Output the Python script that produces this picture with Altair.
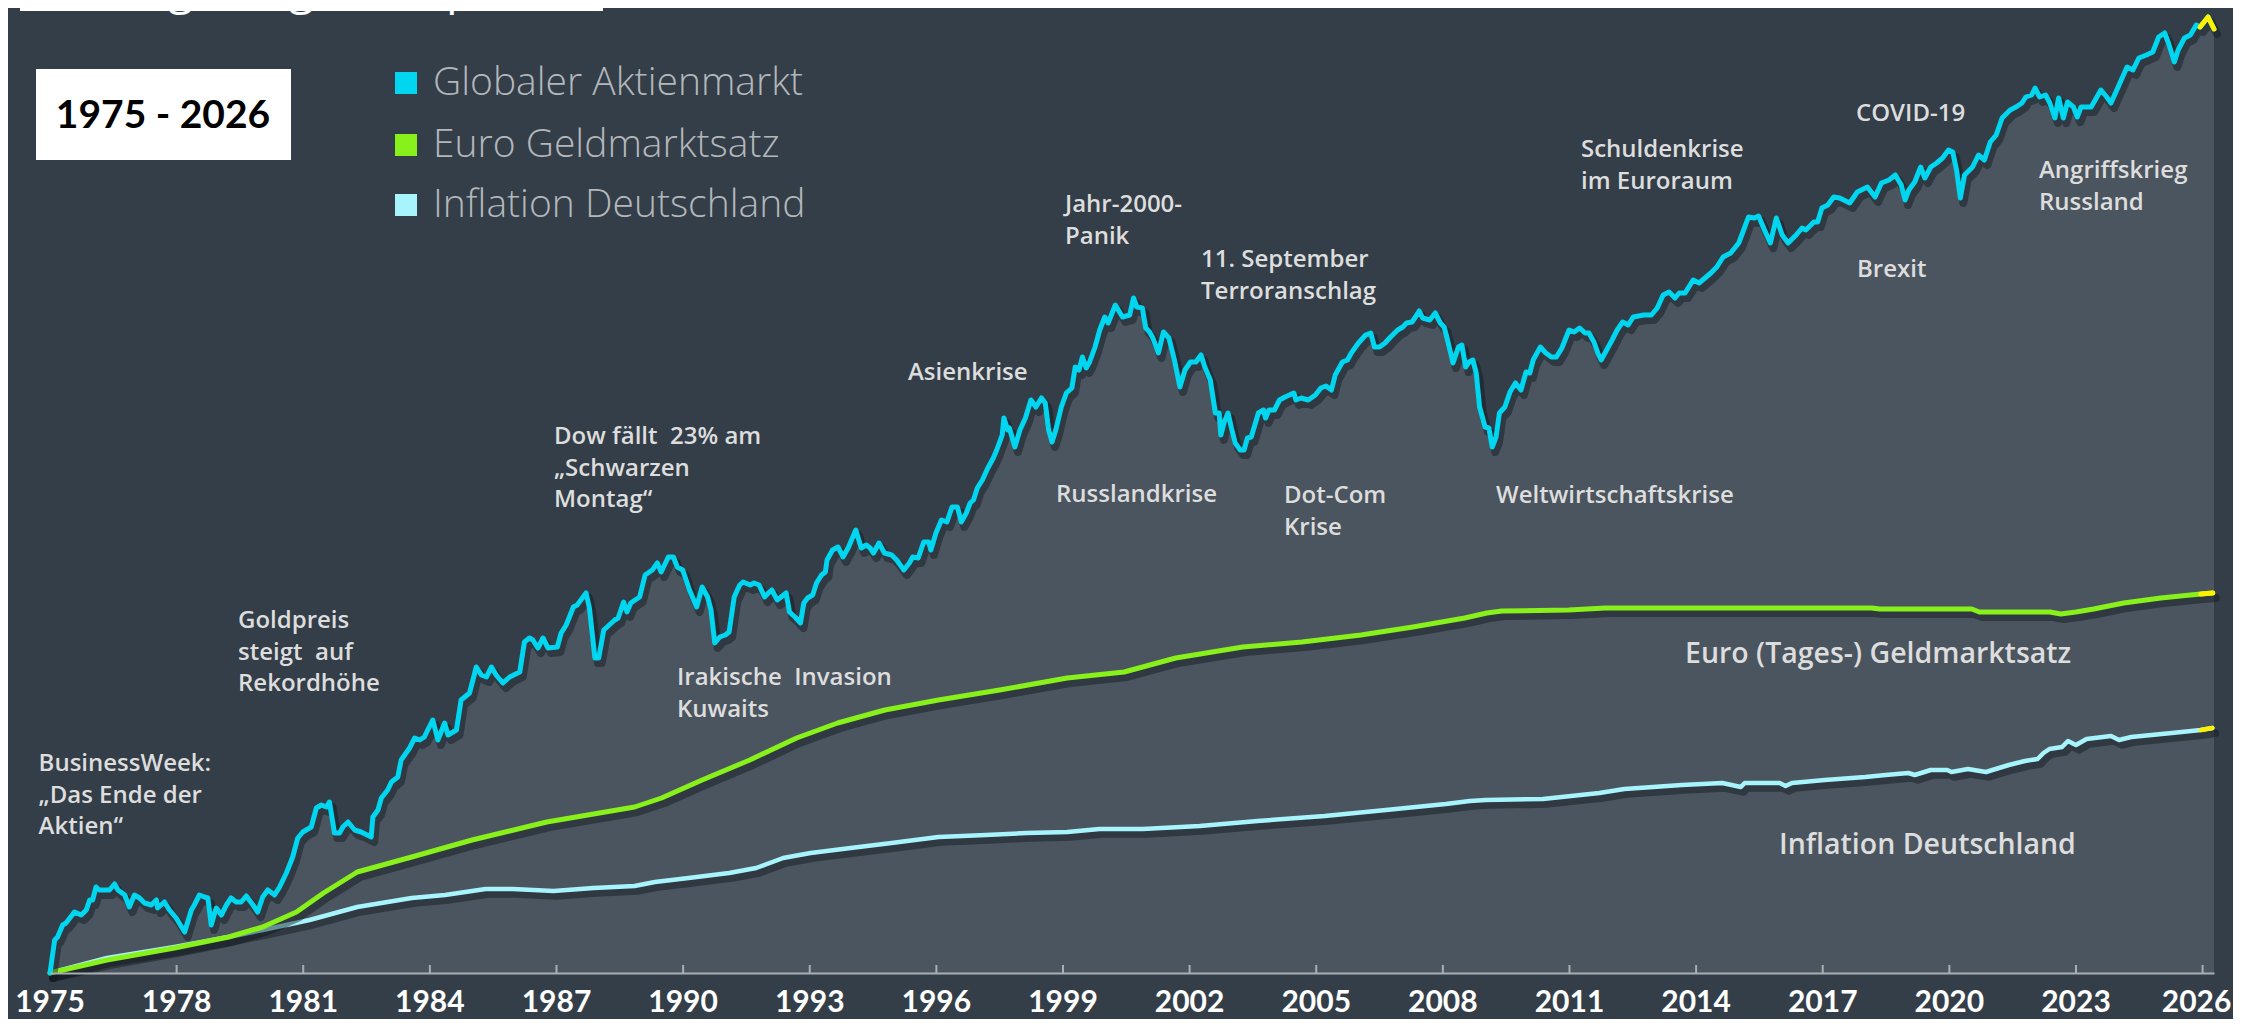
import altair as alt
import pandas as pd

# ---------------- data (year, relative level; no y-axis in the original) ----
SERIES = ["Globaler Aktienmarkt", "Euro Geldmarktsatz", "Inflation Deutschland"]

STOCK_POINTS = [
    (1975.00, 0.0), (1975.11, 3.3), (1975.18, 3.6), (1975.30, 4.8), (1975.38, 5.0), (1975.58, 6.1),
    (1975.74, 5.8), (1975.86, 6.3), (1975.94, 7.3), (1976.01, 7.3), (1976.09, 8.6), (1976.17, 8.3),
    (1976.41, 8.3), (1976.53, 8.9), (1976.61, 8.3), (1976.77, 7.8), (1976.88, 6.6), (1977.00, 7.8),
    (1977.12, 7.5), (1977.24, 7.0), (1977.40, 6.8), (1977.52, 7.3), (1977.55, 6.5), (1977.71, 7.1),
    (1977.83, 6.3), (1977.99, 5.5), (1978.19, 4.1), (1978.35, 6.3), (1978.42, 6.8), (1978.54, 7.8),
    (1978.66, 7.6), (1978.74, 7.5), (1978.82, 4.8), (1978.90, 6.0), (1978.94, 6.5), (1979.06, 5.8),
    (1979.18, 6.8), (1979.29, 7.5), (1979.41, 7.1), (1979.53, 7.1), (1979.65, 7.7), (1979.81, 6.8),
    (1979.92, 6.1), (1980.04, 7.6), (1980.16, 8.3), (1980.32, 7.8), (1980.44, 8.6), (1980.60, 10.0),
    (1980.75, 11.6), (1980.87, 13.5), (1980.99, 14.1), (1981.19, 14.6), (1981.31, 16.5), (1981.43, 16.8),
    (1981.55, 16.6), (1981.62, 17.1), (1981.74, 14.0), (1981.86, 14.0), (1981.94, 14.6), (1982.06, 15.1),
    (1982.22, 14.3), (1982.37, 14.1), (1982.61, 13.6), (1982.65, 15.6), (1982.77, 16.3), (1982.85, 17.5),
    (1983.00, 18.3), (1983.09, 19.1), (1983.24, 19.6), (1983.32, 21.3), (1983.52, 22.5), (1983.64, 23.5),
    (1983.76, 23.3), (1983.87, 23.6), (1983.95, 24.3), (1984.07, 25.3), (1984.19, 23.3), (1984.35, 25.0),
    (1984.43, 23.8), (1984.63, 24.3), (1984.74, 27.3), (1984.94, 28.0), (1985.10, 30.6), (1985.22, 29.8),
    (1985.34, 29.6), (1985.46, 30.6), (1985.57, 29.8), (1985.73, 29.0), (1985.89, 29.6), (1986.13, 30.1),
    (1986.24, 33.1), (1986.36, 33.5), (1986.44, 33.3), (1986.56, 32.5), (1986.68, 33.5), (1986.80, 32.5),
    (1987.02, 32.6), (1987.11, 34.0), (1987.23, 34.8), (1987.40, 36.6), (1987.49, 36.8), (1987.70, 38.0),
    (1987.78, 36.5), (1987.91, 31.5), (1988.00, 31.5), (1988.12, 34.3), (1988.38, 35.3), (1988.46, 35.5),
    (1988.59, 37.1), (1988.67, 36.1), (1988.76, 37.0), (1988.97, 37.6), (1989.10, 39.8), (1989.27, 40.3),
    (1989.39, 41.0), (1989.48, 40.1), (1989.65, 41.6), (1989.77, 41.6), (1989.86, 40.6), (1989.99, 40.3),
    (1990.15, 38.3), (1990.32, 36.6), (1990.45, 38.6), (1990.58, 37.6), (1990.66, 36.3), (1990.75, 33.0),
    (1990.87, 33.6), (1991.00, 33.8), (1991.09, 34.1), (1991.21, 37.6), (1991.34, 38.8), (1991.42, 39.1),
    (1991.59, 38.8), (1991.68, 39.0), (1991.80, 38.8), (1991.93, 37.6), (1992.02, 38.0), (1992.10, 38.3),
    (1992.23, 37.3), (1992.44, 38.0), (1992.52, 36.1), (1992.65, 35.6), (1992.78, 35.0), (1992.86, 37.0),
    (1992.95, 37.5), (1993.07, 37.8), (1993.16, 39.0), (1993.28, 39.8), (1993.37, 40.1), (1993.41, 41.3),
    (1993.54, 42.3), (1993.67, 42.6), (1993.79, 41.6), (1993.92, 42.6), (1994.09, 44.3), (1994.22, 42.5),
    (1994.34, 42.8), (1994.43, 42.5), (1994.51, 42.0), (1994.64, 43.0), (1994.77, 42.0), (1994.94, 41.8),
    (1995.06, 41.3), (1995.23, 40.3), (1995.36, 41.0), (1995.44, 41.6), (1995.57, 41.5), (1995.70, 43.1),
    (1995.82, 43.1), (1995.87, 42.3), (1995.99, 44.0), (1996.12, 45.3), (1996.25, 45.1), (1996.37, 46.6),
    (1996.50, 46.6), (1996.59, 45.1), (1996.71, 46.0), (1996.80, 47.0), (1996.88, 47.3), (1996.97, 48.5),
    (1997.09, 49.3), (1997.22, 50.5), (1997.35, 51.5), (1997.43, 52.3), (1997.56, 53.8), (1997.60, 55.5),
    (1997.69, 54.3), (1997.73, 54.5), (1997.86, 52.6), (1997.98, 54.3), (1998.11, 55.5), (1998.24, 57.3),
    (1998.36, 56.6), (1998.49, 57.5), (1998.58, 57.0), (1998.66, 54.3), (1998.74, 53.1), (1998.83, 54.3),
    (1998.96, 56.6), (1999.08, 58.0), (1999.21, 58.5), (1999.29, 60.6), (1999.38, 60.3), (1999.46, 61.6),
    (1999.55, 60.5), (1999.63, 61.1), (1999.76, 62.6), (1999.87, 64.3), (1999.99, 65.6), (2000.07, 65.0),
    (2000.24, 66.8), (2000.41, 65.6), (2000.58, 65.8), (2000.67, 67.5), (2000.75, 66.6), (2000.88, 66.5),
    (2000.96, 64.5), (2001.05, 64.1), (2001.13, 63.5), (2001.26, 62.0), (2001.38, 64.1), (2001.51, 63.5),
    (2001.64, 61.3), (2001.77, 58.6), (2001.89, 60.3), (2002.02, 61.1), (2002.15, 61.1), (2002.27, 61.8),
    (2002.36, 60.6), (2002.49, 59.3), (2002.61, 56.0), (2002.70, 56.0), (2002.74, 53.8), (2002.82, 55.1),
    (2002.91, 56.0), (2002.99, 54.5), (2003.08, 53.0), (2003.20, 52.3), (2003.29, 52.3), (2003.37, 53.5),
    (2003.46, 53.6), (2003.63, 56.0), (2003.75, 56.3), (2003.80, 55.5), (2003.88, 56.3), (2004.01, 56.3),
    (2004.13, 57.3), (2004.26, 57.6), (2004.47, 58.0), (2004.52, 57.3), (2004.64, 57.5), (2004.81, 57.3),
    (2004.98, 57.8), (2005.11, 58.5), (2005.23, 58.7), (2005.36, 58.3), (2005.45, 59.8), (2005.62, 61.1),
    (2005.74, 61.3), (2005.83, 62.0), (2006.00, 63.0), (2006.17, 63.8), (2006.29, 64.0), (2006.38, 62.6),
    (2006.50, 62.6), (2006.63, 63.0), (2006.76, 63.6), (2006.93, 64.3), (2007.05, 64.6), (2007.14, 65.0),
    (2007.27, 65.1), (2007.35, 65.6), (2007.44, 66.2), (2007.52, 65.5), (2007.69, 65.3), (2007.82, 66.0),
    (2007.94, 65.0), (2008.03, 64.6), (2008.11, 63.3), (2008.24, 61.0), (2008.37, 62.6), (2008.45, 62.8),
    (2008.54, 60.6), (2008.62, 61.1), (2008.71, 61.3), (2008.79, 60.0), (2008.87, 56.6), (2009.00, 54.6),
    (2009.09, 54.5), (2009.17, 52.6), (2009.26, 53.6), (2009.34, 56.0), (2009.47, 56.6), (2009.59, 58.1),
    (2009.72, 59.0), (2009.85, 58.3), (2009.97, 60.1), (2010.06, 60.0), (2010.14, 61.3), (2010.31, 62.6),
    (2010.44, 62.0), (2010.57, 61.6), (2010.69, 61.6), (2010.82, 62.5), (2010.99, 64.3), (2011.11, 64.1),
    (2011.24, 64.5), (2011.37, 64.0), (2011.46, 64.0), (2011.58, 63.1), (2011.67, 62.0), (2011.75, 61.3),
    (2011.88, 62.3), (2012.01, 63.3), (2012.13, 64.3), (2012.26, 65.1), (2012.39, 64.8), (2012.51, 65.6),
    (2012.76, 65.8), (2012.94, 65.8), (2013.08, 66.5), (2013.22, 67.8), (2013.36, 68.1), (2013.50, 67.5),
    (2013.60, 68.0), (2013.74, 68.0), (2013.93, 69.3), (2014.07, 69.0), (2014.21, 69.5), (2014.35, 70.0),
    (2014.49, 70.6), (2014.64, 71.6), (2014.82, 72.0), (2015.01, 73.0), (2015.10, 74.0), (2015.24, 75.6),
    (2015.38, 75.5), (2015.48, 75.7), (2015.62, 74.3), (2015.76, 73.0), (2015.90, 75.5), (2016.04, 73.8),
    (2016.18, 73.0), (2016.37, 73.8), (2016.51, 74.5), (2016.60, 74.3), (2016.79, 75.1), (2016.88, 75.1),
    (2016.98, 76.5), (2017.12, 76.8), (2017.26, 77.6), (2017.40, 77.5), (2017.64, 77.0), (2017.82, 78.1),
    (2018.06, 78.6), (2018.24, 77.6), (2018.39, 79.0), (2018.57, 79.3), (2018.72, 79.8), (2018.86, 78.8),
    (2018.95, 77.3), (2019.04, 78.3), (2019.18, 79.1), (2019.32, 80.6), (2019.42, 79.5), (2019.56, 80.6),
    (2019.70, 81.0), (2019.84, 81.5), (2019.98, 82.3), (2020.08, 82.1), (2020.17, 80.3), (2020.26, 77.5),
    (2020.36, 79.8), (2020.55, 80.6), (2020.69, 81.8), (2020.83, 81.3), (2020.97, 83.1), (2021.11, 83.8),
    (2021.25, 85.5), (2021.44, 86.3), (2021.58, 86.6), (2021.72, 87.0), (2021.81, 87.6), (2021.95, 87.8),
    (2022.03, 88.5), (2022.14, 87.6), (2022.28, 87.8), (2022.38, 87.0), (2022.50, 85.5), (2022.59, 87.5),
    (2022.70, 85.5), (2022.80, 87.1), (2022.94, 86.6), (2023.03, 85.6), (2023.12, 86.6), (2023.36, 86.6),
    (2023.59, 88.3), (2023.73, 87.6), (2023.83, 87.0), (2024.02, 88.8), (2024.21, 90.6), (2024.35, 90.3),
    (2024.49, 91.5), (2024.67, 91.8), (2024.82, 92.1), (2024.96, 93.6), (2025.10, 94.0), (2025.19, 93.0),
    (2025.33, 91.1), (2025.42, 92.3), (2025.57, 93.5), (2025.71, 93.8), (2025.85, 94.8), (2025.94, 94.6),
    (2026.13, 95.6), (2026.27, 94.4),
]

MONEY_POINTS = [
    (1975.00, 0.0), (1976.35, 1.3), (1977.95, 2.5), (1979.23, 3.6), (1980.04, 4.6), (1980.84, 6.1),
    (1981.48, 8.0), (1982.28, 10.1), (1983.57, 11.6), (1985.00, 13.3), (1986.77, 15.1), (1988.85, 16.6),
    (1989.49, 17.5), (1990.45, 19.3), (1991.58, 21.3), (1992.69, 23.5), (1993.66, 25.0), (1994.78, 26.3),
    (1996.05, 27.3), (1997.50, 28.3), (1999.10, 29.5), (2000.45, 30.1), (2001.67, 31.5), (2003.26, 32.6),
    (2004.66, 33.1), (2006.06, 33.8), (2007.29, 34.6), (2008.52, 35.5), (2009.04, 36.0), (2009.40, 36.2),
    (2010.98, 36.3), (2011.85, 36.5), (2018.16, 36.5), (2018.35, 36.4), (2020.53, 36.4), (2020.71, 36.1),
    (2022.38, 36.1), (2022.64, 35.9), (2023.00, 36.1), (2023.42, 36.4), (2024.13, 37.0), (2025.01, 37.5),
    (2025.71, 37.8), (2025.96, 37.9), (2026.24, 38.0),
]

INFLATION_POINTS = [
    (1975.00, 0.0), (1976.35, 1.5), (1977.95, 2.6), (1979.23, 3.6), (1980.04, 4.3), (1981.15, 5.3),
    (1982.28, 6.6), (1983.57, 7.5), (1984.36, 7.8), (1985.32, 8.4), (1985.96, 8.4), (1986.93, 8.2),
    (1987.88, 8.5), (1988.85, 8.7), (1989.33, 9.1), (1990.13, 9.5), (1991.09, 10.0), (1991.73, 10.5),
    (1992.37, 11.5), (1993.02, 12.0), (1993.97, 12.5), (1994.94, 13.0), (1996.05, 13.6), (1997.18, 13.8),
    (1998.14, 14.0), (1999.10, 14.1), (1999.87, 14.4), (2000.89, 14.4), (2002.24, 14.7), (2003.61, 15.2),
    (2005.20, 15.7), (2006.65, 16.3), (2008.07, 16.9), (2008.64, 17.2), (2009.02, 17.3), (2010.37, 17.4),
    (2011.71, 18.0), (2012.30, 18.4), (2013.66, 18.8), (2014.62, 19.0), (2015.06, 18.6), (2015.15, 19.0),
    (2015.98, 19.0), (2016.12, 18.7), (2016.27, 19.0), (2017.05, 19.3), (2018.01, 19.6), (2018.49, 19.8),
    (2019.03, 20.0), (2019.18, 19.8), (2019.56, 20.3), (2019.95, 20.3), (2020.05, 20.1), (2020.44, 20.4),
    (2020.87, 20.1), (2021.02, 20.3), (2021.41, 20.8), (2021.79, 21.2), (2022.09, 21.4), (2022.23, 22.0),
    (2022.37, 22.4), (2022.67, 22.6), (2022.81, 23.2), (2023.00, 22.8), (2023.25, 23.4), (2023.83, 23.7),
    (2024.02, 23.3), (2024.31, 23.6), (2025.27, 24.0), (2025.96, 24.3), (2026.23, 24.5),
]

AXIS_YEARS = list(range(1975, 2027, 3))
TICK_YEARS = list(range(1978, 2027, 3))
LATEST_FROM = 2025.94  # most recent months drawn in yellow

NB = "\u00a0"
ANNOTATIONS = [
    (["BusinessWeek:", "\u201eDas Ende der", "Aktien\u201c"], 38.6, 771),
    (["Goldpreis", "steigt" + NB + " auf", "Rekordh\u00f6he"], 238, 628),
    (["Dow f\u00e4llt" + NB + " 23% am", "\u201eSchwarzen", "Montag\u201c"], 554, 444),
    (["Irakische" + NB + " Invasion", "Kuwaits"], 677, 685),
    (["Asienkrise"], 908, 380),
    (["Russlandkrise"], 1056, 502),
    (["Jahr-2000-", "Panik"], 1065, 212),
    (["11. September", "Terroranschlag"], 1201, 267),
    (["Dot-Com", "Krise"], 1284, 503),
    (["Weltwirtschaftskrise"], 1496, 503),
    (["Schuldenkrise", "im Euroraum"], 1581, 157),
    (["COVID-19"], 1856, 121),
    (["Brexit"], 1857, 277),
    (["Angriffskrieg", "Russland"], 2039, 178),
]
SERIES_LABELS = [("Euro (Tages-) Geldmarktsatz", 1685, 663), ("Inflation Deutschland", 1779, 854)]
TITLE = "Die langfristige Perspektive"
PERIOD = "1975 - 2026"

# ---------------- style ----------------
BG = "#333e48"
AREA = "#4b555f"
LINE_COLORS = ["#00d6f0", "#88f01a", "#a8f4fc"]
TAIL = "#fff200"
AXIS_COLOR = "#a9aeb3"
ANN_COLOR = "#dddddd"
LEG_TEXT = "#b3b7bb"

W, H = 2164, 965
OX, OY = 50, 8  # page position of the plot origin


def frame(points, name):
    return pd.DataFrame({"year": [p[0] for p in points],
                         "level": [p[1] for p in points],
                         "series": name})


stock = frame(STOCK_POINTS, SERIES[0])
money = frame(MONEY_POINTS, SERIES[1])
infl = frame(INFLATION_POINTS, SERIES[2])

x_enc = alt.X(
    "year:Q",
    scale=alt.Scale(domain=[1975, 2026.27], nice=False, zero=False),
    axis=alt.Axis(values=AXIS_YEARS, title=None, grid=False, labels=False,
                  ticks=False, tickSize=0, domainColor=AXIS_COLOR,
                  domainWidth=2, zindex=1),
)
y_enc = alt.Y("level:Q", scale=alt.Scale(domain=[0, 96.5], nice=False), axis=None)

layers = []
layers.append(alt.Chart(stock).mark_area(color=AREA).encode(x=x_enc, y=y_enc))


def series_layers(df, color, width):
    out = []
    out.append(alt.Chart(df).mark_line(color="#10161c", opacity=0.45, strokeWidth=width + 3,
                                       xOffset=3, yOffset=5, strokeJoin="round", strokeCap="round")
               .encode(x=x_enc, y=y_enc))
    out.append(alt.Chart(df).mark_line(color=color, strokeWidth=width, strokeJoin="round",
                                       strokeCap="round").encode(x=x_enc, y=y_enc))
    out.append(alt.Chart(df[df["year"] >= LATEST_FROM]).mark_line(
        color=TAIL, strokeWidth=width, strokeJoin="round", strokeCap="round").encode(x=x_enc, y=y_enc))
    return out


layers += series_layers(infl, LINE_COLORS[2], 4.5)
layers += series_layers(money, LINE_COLORS[1], 5)
layers += series_layers(stock, LINE_COLORS[0], 5)

# axis ticks pointing up from the baseline
layers.append(alt.Chart(pd.DataFrame({"year": TICK_YEARS})).mark_rule(color=AXIS_COLOR, strokeWidth=2)
              .encode(x=x_enc, y=alt.value(H), y2=alt.value(H - 8)))

# year labels under the axis (last one nudged in so it stays inside the page)
years_df = pd.DataFrame({"year": AXIS_YEARS})
label_style = dict(font="Lato", fontWeight="bold", fontSize=30, color="white",
                   align="center", baseline="alphabetic")
layers.append(alt.Chart(years_df.iloc[:-1]).mark_text(**label_style).encode(
    x=x_enc, y=alt.value(1004), text=alt.Text("year:Q", format="d")))
layers.append(alt.Chart(years_df.iloc[-1:]).mark_text(dx=-6, **label_style).encode(
    x=x_enc, y=alt.value(1004), text=alt.Text("year:Q", format="d")))

DUMMY = alt.InlineData(values=[{"k": 0}])


def text(s, px, py, size, color, weight, font, align="left"):
    return alt.Chart(DUMMY).mark_text(text=s, align=align, baseline="alphabetic", font=font,
                                      fontSize=size, fontWeight=weight, color=color).encode(
        x=alt.value(px - OX), y=alt.value(py - OY))


for lines, px, py in ANNOTATIONS:
    for i, ln in enumerate(lines):
        layers.append(text(ln, px, py + i * 31.5, 24, ANN_COLOR, 600, "Open Sans"))
for s, px, py in SERIES_LABELS:
    layers.append(text(s, px, py, 28.5, ANN_COLOR, 600, "Open Sans"))

# period box
layers.append(alt.Chart(DUMMY).mark_rect(color="white").encode(
    x=alt.value(36 - OX), x2=alt.value(291 - OX), y=alt.value(69 - OY), y2=alt.value(160 - OY)))
layers.append(text(PERIOD, 163, 128, 39, "black", "bold", "Lato", align="center"))

# legend
LEG_Y = [83, 145, 205]
for name, color, cy in zip(SERIES, LINE_COLORS, LEG_Y):
    layers.append(alt.Chart(DUMMY).mark_square(size=484, color=color, opacity=1).encode(
        x=alt.value(406 - OX), y=alt.value(cy - OY)))
    layers.append(text(name, 433, cy + 12, 39, LEG_TEXT, 300, "Open Sans"))

# title (cut off at the top edge like the original)
layers.append(text(TITLE, 20, 4, 46, "white", 400, "Open Sans"))
layers.append(alt.Chart(DUMMY).mark_rule(color="white", strokeWidth=3).encode(
    x=alt.value(20 - OX), x2=alt.value(603 - OX), y=alt.value(9.5 - OY)))

chart = alt.layer(*layers).properties(
    width=W, height=H,
    padding={"left": 42, "top": 0, "right": 19, "bottom": 46},
    autosize=alt.AutoSizeParams(type="none"),
    background=BG,
).configure_view(strokeWidth=0)

chart.save("out.html", embed_options={"renderer": "svg", "actions": False})
